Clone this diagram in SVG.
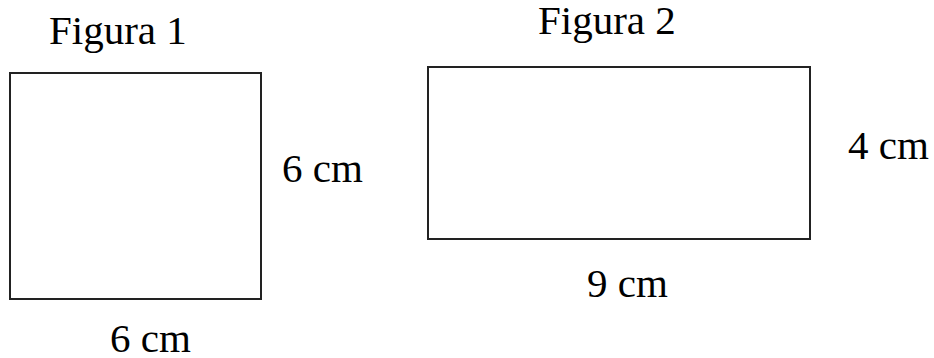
<svg xmlns="http://www.w3.org/2000/svg" width="934" height="358" viewBox="0 0 934 358">
<style>
.shape{fill:#fff;stroke:#222;stroke-width:2}
.lbl{font-family:"Liberation Serif","Times New Roman",serif;font-size:41px;fill:#000}
</style>
<rect width="934" height="358" fill="#fff"/>
<g id="figura1">
<text class="lbl" x="49" y="44">Figura 1</text>
<rect class="shape" x="10" y="73" width="251" height="226"/>
<text class="lbl" x="282" y="182">6 cm</text>
<text class="lbl" x="110" y="352">6 cm</text>
</g>
<g id="figura2">
<text class="lbl" x="538" y="34">Figura 2</text>
<rect class="shape" x="428" y="67" width="382" height="172"/>
<text class="lbl" x="848" y="159">4 cm</text>
<text class="lbl" x="587" y="297">9 cm</text>
</g>
<g id="connectors"></g>
</svg>
